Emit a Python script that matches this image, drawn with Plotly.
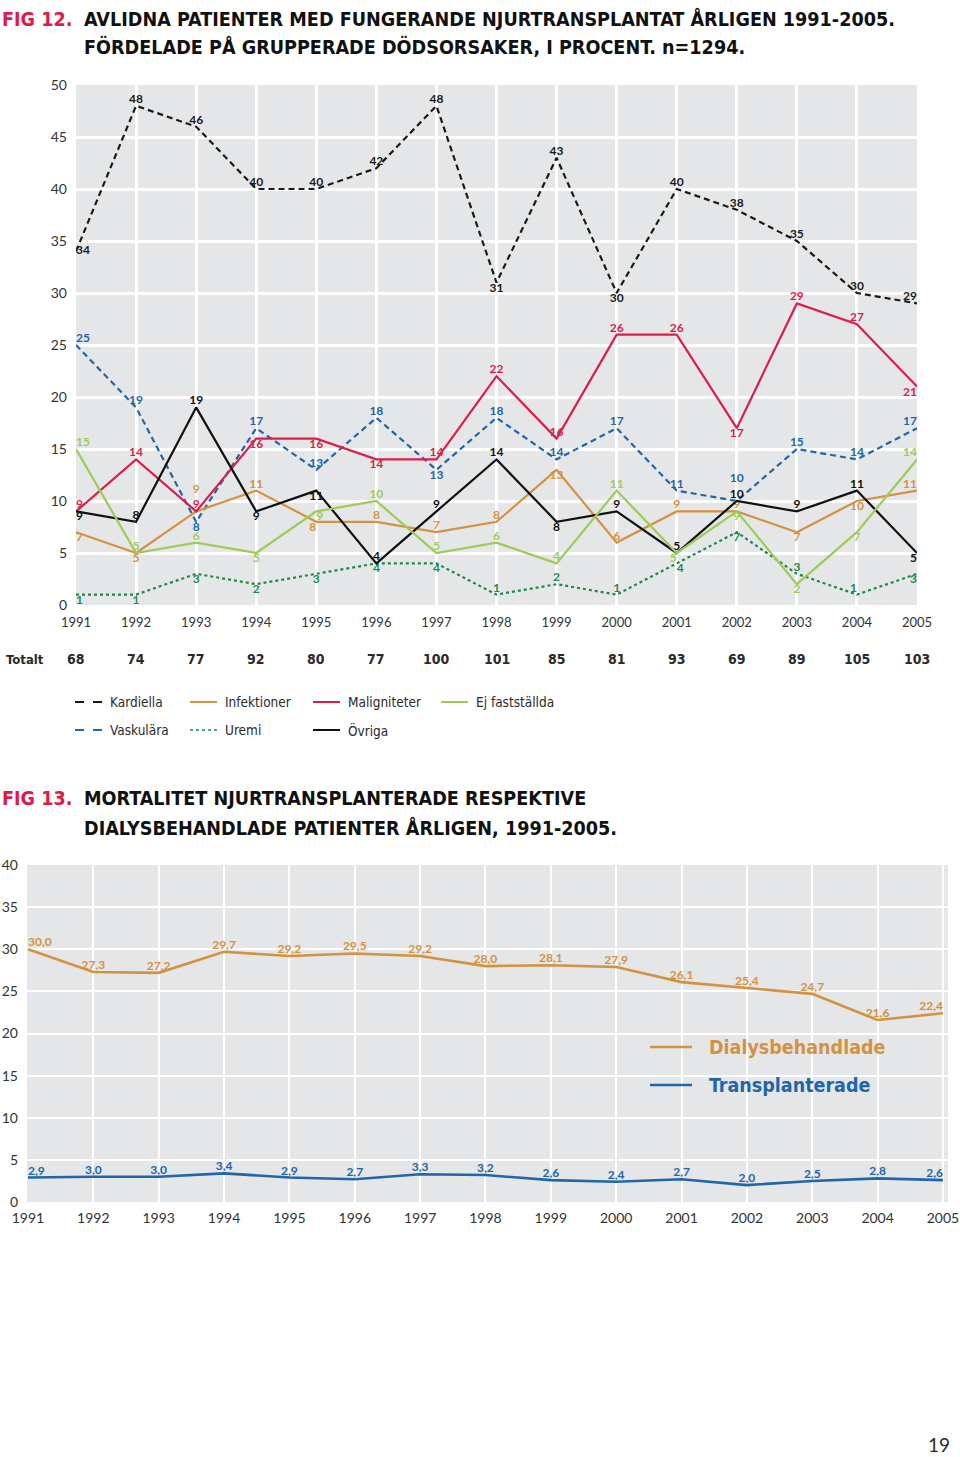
import plotly.graph_objects as go

YEARS = list(range(1991, 2006))

# FIG 12 – causes of death (%)
KARDIELLA = [34, 48, 46, 40, 40, 42, 48, 31, 43, 30, 40, 38, 35, 30, 29]
VASKULARA = [25, 19, 8, 17, 13, 18, 13, 18, 14, 17, 11, 10, 15, 14, 17]
INFEKTIONER = [7, 5, 9, 11, 8, 8, 7, 8, 13, 6, 9, 9, 7, 10, 11]
UREMI = [1, 1, 3, 2, 3, 4, 4, 1, 2, 1, 4, 7, 3, 1, 3]
MALIGNITETER = [9, 14, 9, 16, 16, 14, 14, 22, 16, 26, 26, 17, 29, 27, 21]
OVRIGA = [9, 8, 19, 9, 11, 4, 9, 14, 8, 9, 5, 10, 9, 11, 5]
EJ_FASTSTALLDA = [15, 5, 6, 5, 9, 10, 5, 6, 4, 11, 5, 9, 2, 7, 14]
TOTALT = [68, 74, 77, 92, 80, 77, 100, 101, 85, 81, 93, 69, 89, 105, 103]

# FIG 13 – mortality (%)
DIALYS = [30.0, 27.3, 27.2, 29.7, 29.2, 29.5, 29.2, 28.0, 28.1, 27.9, 26.1, 25.4, 24.7, 21.6, 22.4]
TRANSPL = [2.9, 3.0, 3.0, 3.4, 2.9, 2.7, 3.3, 3.2, 2.6, 2.4, 2.7, 2.0, 2.5, 2.8, 2.6]

# ---- styling ----
W, H = 960, 1457
def px(x): return x / W
def py(y): return 1 - y / H

P = {"T": "top center", "B": "bottom center", "TR": "top right", "TL": "top left",
     "BR": "bottom right", "BL": "bottom left", "R": "middle right"}
def pos(codes): return [P[c] for c in codes.split()]

# labels lifted one extra line (stacked above a neighbouring label)
LIFT = {("Vaskulära", 2002), ("Infektioner", 1993)}

C_KARD = "#1a1a1a"
C_VASK = "#2166a8"
C_INF = "#d39240"
C_UREMI = "#1b8a4a"
C_MAL = "#dd1d4c"
C_OVR = "#111111"
C_EJ = "#9dcb58"
C_RED = "#e2184b"
TXT = "#2a2a2a"
LBL_FONT = "Lato, sans-serif"
NARROW = "Liberation Sans Narrow, Arial Narrow, DejaVu Sans Condensed, Roboto Condensed, Liberation Sans, sans-serif"

series12 = [
    ("Kardiella", KARDIELLA, C_KARD, "6px,4px", pos("R T T T T T T B T B T T T T TL")),
    ("Vaskulära", VASKULARA, C_VASK, "6px,4px", pos("TR T B T T T B T T T T T T T TL")),
    ("Infektioner", INFEKTIONER, C_INF, "solid", pos("BR B T T BL T T T B T T T B B TL")),
    ("Uremi", UREMI, C_UREMI, "dot", pos("BR B B B B B B T T T BR B T TL BL")),
    ("Maligniteter", MALIGNITETER, C_MAL, "solid", pos("TR T T B B B T T T T T B T T BL")),
    ("Övriga", OVRIGA, C_OVR, "solid", pos("BR T T B B T T T B T T T T T BL")),
    ("Ej fastställda", EJ_FASTSTALLDA, C_EJ, "solid", pos("TR T T B BR T T T T T BL B B B TL")),
]

fig = go.Figure()
for name, vals, color, dash, tp in series12:
    labels = [f"{v}<br> " if (name, yr) in LIFT else str(v) for yr, v in zip(YEARS, vals)]
    fig.add_trace(go.Scatter(
        x=YEARS, y=vals, name=name, mode="lines+text",
        text=labels, textposition=tp,
        textfont=dict(color=color, size=12, family=LBL_FONT, weight="bold"),
        line=dict(color=color, width=2.2, dash=dash),
        xaxis="x", yaxis="y", cliponaxis=False, showlegend=False, hoverinfo="skip"))

def fmt(v): return f"{v:.1f}".replace(".", ",")
edge = pos("TR T T T T T T T T T T T T T TL")
for name, vals, color in [("Dialysbehandlade", DIALYS, C_INF), ("Transplanterade", TRANSPL, C_VASK)]:
    fig.add_trace(go.Scatter(
        x=YEARS, y=vals, name=name, mode="lines+text",
        text=[fmt(v) for v in vals], textposition=edge,
        textfont=dict(color=color, size=12, family=LBL_FONT, weight="bold"),
        line=dict(color=color, width=2.6),
        xaxis="x2", yaxis="y2", cliponaxis=False, showlegend=False, hoverinfo="skip"))

ann = []
shapes = []
# titles
def title(x, y, text, color="#111"):
    ann.append(dict(x=px(x), y=py(y), xref="paper", yref="paper", xanchor="left", yanchor="middle",
                    text=text, showarrow=False,
                    font=dict(family=NARROW, size=19.6, color=color, weight="bold")))
title(0, 19, "FIG 12.", C_RED)
title(82, 19, "AVLIDNA PATIENTER MED FUNGERANDE NJURTRANSPLANTAT ÅRLIGEN 1991-2005.")
title(82, 47, "FÖRDELADE PÅ GRUPPERADE DÖDSORSAKER, I PROCENT. n=1294.")
title(0, 799, "FIG 13.", C_RED)
title(82, 799, "MORTALITET NJURTRANSPLANTERADE RESPEKTIVE")
title(82, 828, "DIALYSBEHANDLADE PATIENTER ÅRLIGEN, 1991-2005.")

# Totalt row
ann.append(dict(x=px(4), y=py(659), xref="paper", yref="paper", xanchor="left", yanchor="middle",
                text="Totalt", showarrow=False, font=dict(family=NARROW, size=13, color=TXT, weight="bold")))
for yr, t in zip(YEARS, TOTALT):
    ann.append(dict(x=yr, y=py(659), xref="x", yref="paper", xanchor="center", yanchor="middle",
                    text=str(t), showarrow=False, font=dict(family=NARROW, size=14, color=TXT, weight="bold")))

# legend fig 12
leg12 = [
    ("Kardiella", C_KARD, "dash", 75, 702),
    ("Infektioner", C_INF, "solid", 190, 702),
    ("Maligniteter", C_MAL, "solid", 313, 702),
    ("Ej fastställda", C_EJ, "solid", 441, 702),
    ("Vaskulära", C_VASK, "dash", 75, 730),
    ("Uremi", C_UREMI, "dot", 190, 730),
    ("Övriga", C_OVR, "solid", 313, 730),
]
for name, color, dash, x0, y0 in leg12:
    shapes.append(dict(type="line", xref="paper", yref="paper", x0=px(x0), x1=px(x0 + 27),
                       y0=py(y0), y1=py(y0), line=dict(color=color, width=2 if dash != "dot" else 1.6, dash=dash)))
    ann.append(dict(x=px(x0 + 33), y=py(y0), xref="paper", yref="paper", xanchor="left", yanchor="middle",
                    text=name, showarrow=False, font=dict(family=NARROW, size=13.5, color=TXT)))

# legend fig 13
for name, color, y0 in [("Dialysbehandlade", C_INF, 1047), ("Transplanterade", C_VASK, 1085)]:
    shapes.append(dict(type="line", xref="paper", yref="paper", x0=px(650), x1=px(692),
                       y0=py(y0), y1=py(y0), line=dict(color=color, width=2.6)))
    ann.append(dict(x=px(707), y=py(y0), xref="paper", yref="paper", xanchor="left", yanchor="middle",
                    text=name, showarrow=False, font=dict(family=NARROW, size=19.5, color=color, weight="bold")))

# page number
ann.append(dict(x=px(952), y=py(1444), xref="paper", yref="paper", xanchor="right", yanchor="middle",
                text="19", showarrow=False, font=dict(family=LBL_FONT, size=19, color=TXT)))

axis_common = dict(showline=False, zeroline=False, ticks="", fixedrange=True, automargin=False,
                   gridcolor="white", tickcolor="white")

fig.update_layout(
    width=W, height=H, margin=dict(l=0, r=0, t=0, b=0),
    paper_bgcolor="white", plot_bgcolor="#e5e6e7",
    xaxis=dict(domain=[px(76), px(917)], range=[1991, 2005], tickvals=YEARS, anchor="y",
               gridwidth=3, tickfont=dict(family=LBL_FONT, size=13, color="#333"),
               ticklabelstandoff=8, **axis_common),
    yaxis=dict(domain=[py(605), py(85)], range=[0, 50], dtick=5, anchor="x",
               gridwidth=3, tickfont=dict(family=LBL_FONT, size=14, color="#333"),
               ticklabelstandoff=8, **axis_common),
    xaxis2=dict(domain=[px(27), px(948)], range=[1990.985, 2005.077], tickvals=YEARS, anchor="y2",
                gridwidth=2, tickfont=dict(family=LBL_FONT, size=14, color="#333"),
                ticklabelstandoff=6, **axis_common),
    yaxis2=dict(domain=[py(1202), py(865)], range=[0, 40], dtick=5, anchor="x2",
                gridwidth=2, tickfont=dict(family=LBL_FONT, size=14, color="#333"),
                ticklabelstandoff=8, **axis_common),
    annotations=ann, shapes=shapes, showlegend=False,
)

fig.write_html("out.html", config={"displayModeBar": False},
               post_script="document.body.style.margin='0';document.body.style.padding='0';"
                           "document.documentElement.style.overflow='hidden';")
